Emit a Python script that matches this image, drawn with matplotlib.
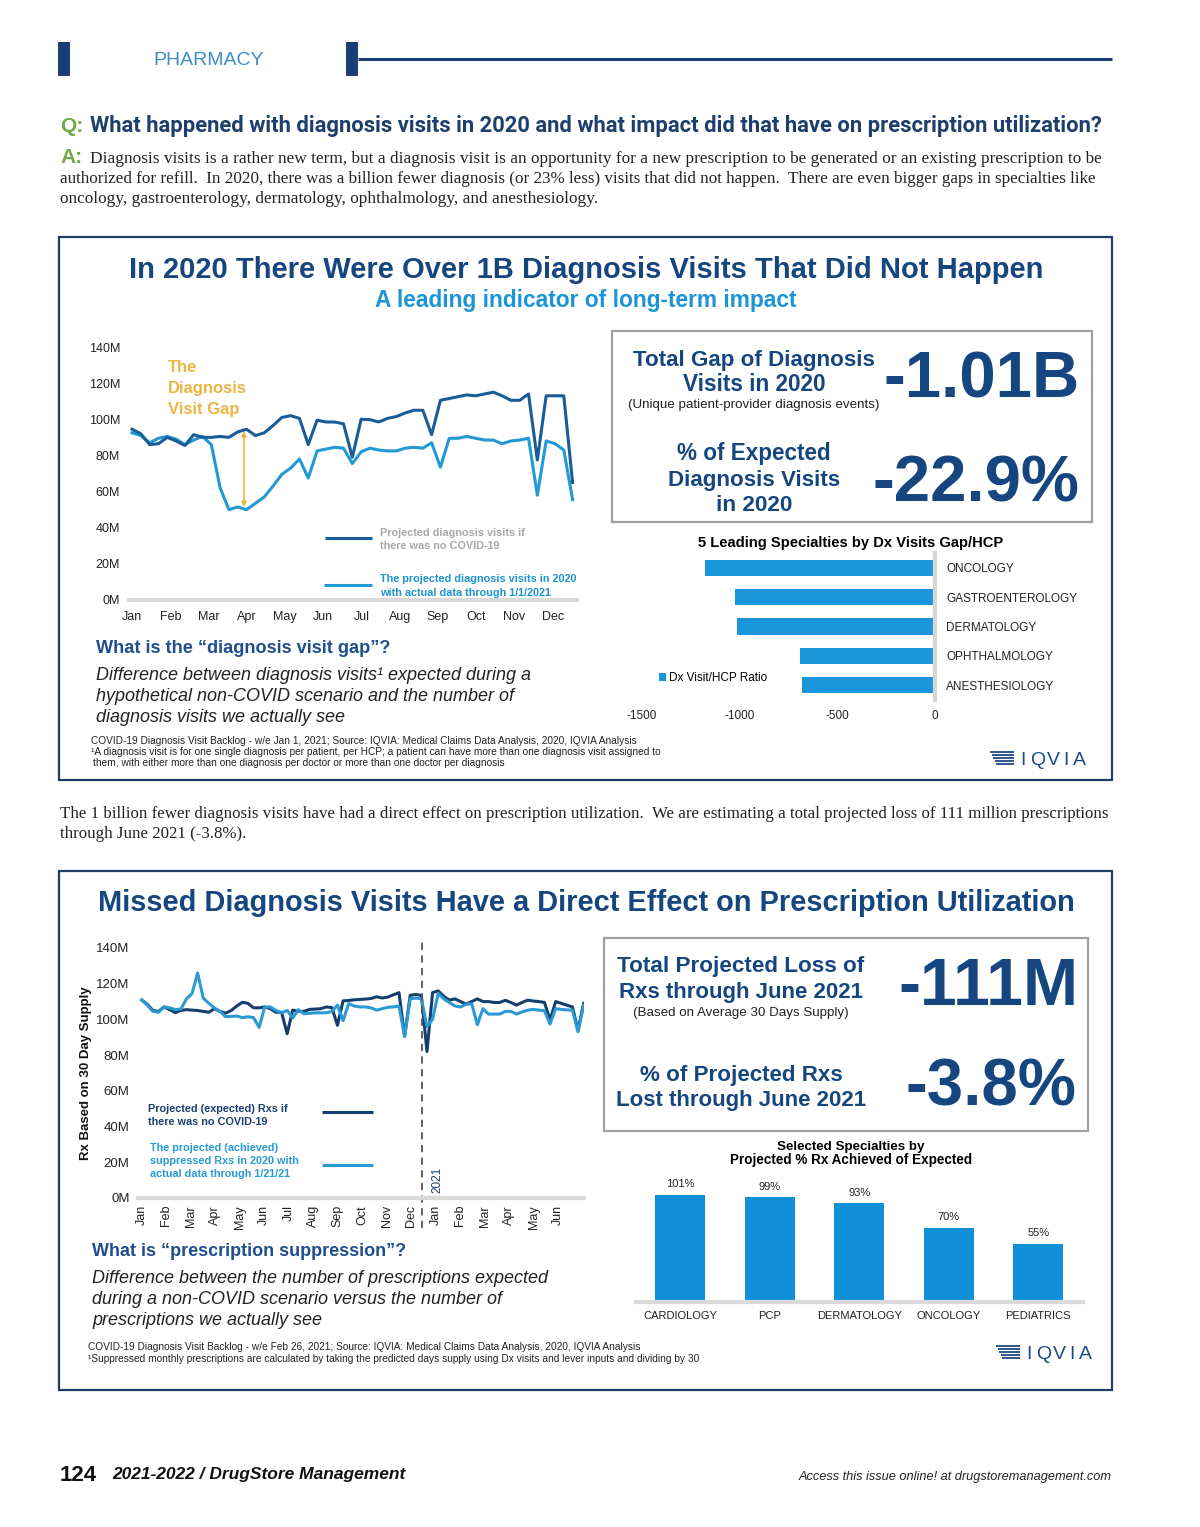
import numpy as np
import matplotlib.pyplot as plt
from matplotlib.patches import Rectangle
from matplotlib.lines import Line2D

# ---- data ----
months_2020 = ['Jan', 'Feb', 'Mar', 'Apr', 'May', 'Jun', 'Jul', 'Aug', 'Sep', 'Oct', 'Nov', 'Dec']
months_rx = months_2020 + ['Jan', 'Feb', 'Mar', 'Apr', 'May', 'Jun']

# weekly diagnosis visits 2020 (millions)
dx_expected = [94.5, 92, 86, 86.5, 90, 88, 85.5, 91.5, 90, 90, 90.5, 90, 93, 94.5, 91, 92.5,
               96.5, 101, 102, 100.5, 86, 99.5, 98.5, 98.5, 97.5, 79, 100, 99.8, 98.5, 100.5,
               101.5, 103.5, 105, 105, 91.5, 110.5, 111.5, 112.5, 113.5, 113, 114, 115, 113,
               110.5, 110.5, 114, 77.5, 113, 113, 113, 65]
dx_actual = [92.5, 91, 87, 89.5, 90.5, 89, 86, 88.5, 90.5, 86, 62, 50, 51.5, 50, 53.5, 57,
             63, 69.5, 73, 78, 67.5, 82.5, 83.5, 84.5, 84, 75.5, 82, 84, 83, 82.5, 82.5, 84,
             84.5, 84, 87, 73.5, 89.5, 89.5, 90.5, 89.5, 88.5, 88.5, 86.5, 88, 88.5, 89.5,
             58, 88, 86.5, 83, 55.5]

gap_specialties = ['ONCOLOGY', 'GASTROENTEROLOGY', 'DERMATOLOGY', 'OPHTHALMOLOGY', 'ANESTHESIOLOGY']
gap_values = [-1177, -1023, -1015, -691, -682]

# weekly prescriptions Jan 2020 - Jun 2021 (millions)
rx_expected = [110.9, 108.5, 105, 104.5, 107, 105.5, 103.8, 105, 105.5, 105.2, 105, 104.5, 104,
               106, 104.5, 103.5, 105, 107.5, 109.6, 109, 106.5, 106.5, 107, 106, 104, 104, 92,
               105.2, 104.5, 104.5, 105.6, 105.8, 106, 107, 106.6, 96.7, 110.4, 110.6, 111,
               111.2, 111.4, 111.7, 112.7, 112, 112.5, 113.8, 115, 90.5, 113.5, 114, 113.4, 82,
               115, 116, 113, 110.8, 111.5, 110, 108.5, 110, 111.5, 110, 110, 109.5, 109.5,
               110.7, 109.5, 108, 109.5, 110.8, 110.3, 110, 109.5, 99.7, 110, 109, 108, 107, 94, 109]
rx_actual = [110.9, 108, 104.5, 104, 107, 106.5, 105.5, 105.8, 111.5, 114.5, 126, 112, 109,
             106.5, 104.5, 101.5, 101.7, 101.9, 101, 101.5, 101, 95.5, 107, 107, 105, 103.7, 105,
             100.8, 105.4, 103.2, 103.4, 103.7, 103.7, 103.7, 104.5, 108, 99.3, 108.8, 107.5,
             107, 107, 106.5, 105.2, 106, 106.8, 107, 107.5, 90.5, 111.5, 112, 111.5, 96, 100,
             114.5, 111.5, 109.5, 107.5, 107, 108.5, 108.8, 97, 106, 103, 103, 103, 104.5, 104.5,
             103, 104.2, 105.2, 105.6, 105.2, 104.9, 97.4, 106, 105.6, 105.3, 105.2, 93.1, 108]

ach_specialties = ['CARDIOLOGY', 'PCP', 'DERMATOLOGY', 'ONCOLOGY', 'PEDIATRICS']
ach_values = [101, 99, 93, 70, 55]

# ---- colours / fonts ----
NAVY = '#16467f'
BOXNAVY = '#1f3d66'
LBLUE = '#1b95d5'
GOLD = '#ecb443'
GREEN = '#73a843'
GRAY = '#a8a8a8'
SANS = ['Liberation Sans', 'DejaVu Sans']
SERIF = ['Liberation Serif', 'DejaVu Serif']

W, H = 1200, 1527
fig = plt.figure(figsize=(12, 15.27), dpi=100)
fig.patch.set_facecolor('white')
R = fig.canvas.get_renderer()


def txt(x, y, s, size, color='black', weight='normal', style='normal', ha='left',
        va='baseline', family=SANS, width=None, **kw):
    t = fig.text(x / W, 1 - y / H, s, fontsize=size, color=color, fontweight=weight,
                 fontstyle=style, ha=ha, va=va, family=family, **kw)
    if width:
        w = t.get_window_extent(R).width
        t.set_fontsize(size * width / w)
    return t


def rect(x0, y0, x1, y1, ec='none', fc='none', lw=1):
    fig.add_artist(Rectangle((x0 / W, 1 - y1 / H), (x1 - x0) / W, (y1 - y0) / H,
                             transform=fig.transFigure, ec=ec, fc=fc, lw=lw))


def hline(x0, x1, y, color, lw):
    fig.add_artist(Line2D([x0 / W, x1 / W], [1 - y / H, 1 - y / H],
                          transform=fig.transFigure, color=color, lw=lw, solid_capstyle='butt'))


def axpx(x0, y0, x1, y1):
    return fig.add_axes([x0 / W, 1 - y1 / H, (x1 - x0) / W, (y1 - y0) / H])


def logo(x, y):
    for k in range(5):
        hline(x + k * 1.5, x + 24, y - 6 + k * 3, '#1d4a85', 1.3)
    for k, c in enumerate('IQVIA'):
        txt(x + 30 + [0, 10, 27, 43, 53][k], y + 7, c, 14, color='#1d4a85', family=SANS)


# ---- page header ----
rect(58, 42, 70, 76, fc='#1a3f78')
rect(346, 42, 358, 76, fc='#1a3f78')
hline(358, 1112, 59, '#1a3f78', 2.2)
txt(153, 65, 'PHARMACY', 13, color='#3a8dc5', width=110)

txt(60, 132, 'Q:', 15, color=GREEN, weight='bold')
txt(90, 132, 'What happened with diagnosis visits in 2020 and what impact did that have on '
    'prescription utilization?', 14, color='#1d3f6e', weight='bold',
    family=['Liberation Sans Narrow', 'Roboto'], width=1013)
txt(60, 163, 'A:', 15, color=GREEN, weight='bold')
t1 = txt(90, 163, 'Diagnosis visits is a rather new term, but a diagnosis visit is an opportunity '
         'for a new prescription to be generated or an existing prescription to be',
         11.5, color='#222222', family=SERIF, width=1007)
fs = t1.get_fontsize()
txt(60, 183, 'authorized for refill.  In 2020, there was a billion fewer diagnosis (or 23% less) '
    'visits that did not happen.  There are even bigger gaps in specialties like',
    fs, color='#222222', family=SERIF, width=1037)
txt(60, 203, 'oncology, gastroenterology, dermatology, ophthalmology, and anesthesiology.',
    fs, color='#222222', family=SERIF)

# ---- first panel ----
rect(59, 237, 1112, 780, ec=BOXNAVY, lw=1.6)
txt(586, 278, 'In 2020 There Were Over 1B Diagnosis Visits That Did Not Happen', 20,
    color=NAVY, weight='bold', ha='center', width=913)
txt(586, 307, 'A leading indicator of long-term impact', 14, color=LBLUE, weight='bold',
    ha='center', width=423)

ax1 = axpx(128.5, 347, 577, 600)
wk = np.arange(len(dx_expected))
ax1.plot(wk, dx_actual, color='#2299d5', lw=2.2)
ax1.plot(wk, dx_expected, color='#1a5c98', lw=2.2)
ax1.set_ylim(0, 140)
ax1.set_xlim(-0.4, 50.5)
ax1.set_yticks(np.arange(0, 141, 20))
ax1.set_yticklabels([f'{v}M' for v in range(0, 141, 20)], family=SANS, fontsize=9, color='#222')
ax1.set_xticks(np.arange(12) * 4.34)
ax1.set_xticklabels(months_2020, family=SANS, fontsize=9, color='#222')
ax1.tick_params(length=0, pad=6)
ax1.tick_params(axis='x', pad=8)
for s in ['top', 'right', 'left']:
    ax1.spines[s].set_visible(False)
ax1.spines['bottom'].set_color('#d9d9d9')
ax1.spines['bottom'].set_linewidth(3)
ax1.annotate('', xy=(12.7, 51.5), xytext=(12.7, 93.5),
             arrowprops=dict(arrowstyle='<|-|>', color=GOLD, lw=1.2, mutation_scale=7,
                             shrinkA=0, shrinkB=0))

txt(168, 372, 'The', 12, color=GOLD, weight='bold')
txt(168, 393, 'Diagnosis', 12, color=GOLD, weight='bold')
txt(168, 414, 'Visit Gap', 12, color=GOLD, weight='bold')

hline(325, 372, 538, '#1a5c98', 2.2)
txt(380, 536, 'Projected diagnosis visits if', 7.8, color=GRAY, weight='bold')
txt(380, 549, 'there was no COVID-19', 7.8, color=GRAY, weight='bold')
hline(324, 372, 585, '#2299d5', 2.2)
txt(380, 582, 'The projected diagnosis visits in 2020', 7.8, color='#1d93d0', weight='bold')
txt(380, 596, 'with actual data through 1/1/2021', 7.8, color='#1d93d0', weight='bold')

txt(96, 653, 'What is the \u201cdiagnosis visit gap\u201d?', 12, color='#1f4e8c', weight='bold',
    width=292)
ti = txt(96, 680, 'Difference between diagnosis visits\u00b9 expected during a', 11.5,
         color='#222', style='italic', width=435)
fi = ti.get_fontsize()
txt(96, 701, 'hypothetical non-COVID scenario and the number of', fi, color='#222', style='italic')
txt(96, 722, 'diagnosis visits we actually see', fi, color='#222', style='italic')

txt(91, 744, 'COVID-19 Diagnosis Visit Backlog - w/e Jan 1, 2021; Source: IQVIA: Medical Claims '
    'Data Analysis, 2020, IQVIA Analysis', 6.5, color='#222', width=545)
txt(91, 755, '\u00b9A diagnosis visit is for one single diagnosis per patient, per HCP; a patient '
    'can have more than one diagnosis visit assigned to', 6.5, color='#222', width=567)
txt(93, 766, 'them, with either more than one diagnosis per doctor or more than one doctor per '
    'diagnosis', 6.5, color='#222', width=410)
logo(990, 758)

# stats box 1
rect(612, 331, 1092, 522, ec='#a0a0a0', lw=1.6)
txt(754, 366, 'Total Gap of Diagnosis', 14.5, color=NAVY, weight='bold', ha='center', width=242)
txt(754, 391, 'Visits in 2020', 14.5, color=NAVY, weight='bold', ha='center', width=142)
txt(754, 408, '(Unique patient-provider diagnosis events)', 9, color='#222', ha='center', width=252)
txt(982, 398, '-1.01B', 46, color=NAVY, weight='bold', ha='center', width=196)
txt(754, 460, '% of Expected', 14.5, color=NAVY, weight='bold', ha='center', width=154)
txt(754, 486, 'Diagnosis Visits', 14.5, color=NAVY, weight='bold', ha='center', width=172)
txt(754, 511, 'in 2020', 14.5, color=NAVY, weight='bold', ha='center', width=76)
txt(976, 502, '-22.9%', 48, color=NAVY, weight='bold', ha='center', width=207)

# specialties gap bar chart
txt(851, 547, '5 Leading Specialties by Dx Visits Gap/HCP', 9.5, color='black', weight='bold',
    ha='center', width=307)
ax2 = axpx(642, 553, 935, 700)
yb = np.arange(len(gap_values))
ax2.barh(yb, gap_values, height=0.55, color='#1c96da', label='Dx Visit/HCP Ratio')
ax2.set_xlim(-1500, 0)
ax2.set_ylim(4.5, -0.5)
ax2.set_xticks([-1500, -1000, -500, 0])
ax2.set_xticklabels(['-1500', '-1000', '-500', '0'], family=SANS, fontsize=8.5, color='#222')
ax2.yaxis.tick_right()
ax2.set_yticks(yb)
ax2.set_yticklabels(gap_specialties, family=SANS, fontsize=8.5, color='#222')
ax2.tick_params(length=0)
ax2.tick_params(axis='x', pad=7)
ax2.tick_params(axis='y', pad=8)
for s in ['top', 'left', 'bottom']:
    ax2.spines[s].set_visible(False)
ax2.spines['right'].set_color('#d6d6d6')
ax2.spines['right'].set_linewidth(3)
ax2.legend(loc='center left', bbox_to_anchor=(648 / W, 1 - 678 / H),
           bbox_transform=fig.transFigure, frameon=False, handlelength=0.6, handleheight=0.6,
           handletextpad=0.3, prop={'family': SANS, 'size': 8.5})

# ---- middle paragraph ----
t2 = txt(60, 818, 'The 1 billion fewer diagnosis visits have had a direct effect on prescription '
         'utilization.  We are estimating a total projected loss of 111 million prescriptions',
         fs, color='#222222', family=SERIF, width=1052)
txt(60, 838, 'through June 2021 (-3.8%).', t2.get_fontsize(), color='#222222', family=SERIF)

# ---- second panel ----
rect(59, 871, 1112, 1390, ec=BOXNAVY, lw=1.6)
txt(586, 911, 'Missed Diagnosis Visits Have a Direct Effect on Prescription Utilization', 20,
    color=NAVY, weight='bold', ha='center', width=978)

ax3 = axpx(138, 948, 584, 1198)
wr = np.arange(len(rx_expected))
ax3.plot(wr, rx_expected, color='#143e6e', lw=2.2)
ax3.plot(wr, rx_actual, color='#2a9ad4', lw=2.2)
ax3.set_ylim(0, 140)
ax3.set_xlim(-0.66, 79.07)
ax3.set_yticks(np.arange(0, 141, 20))
ax3.set_yticklabels([f'{v}M' for v in range(0, 141, 20)], family=SANS, fontsize=9.5, color='#222')
ax3.set_xticks(np.arange(18) * 4.38)
ax3.set_xticklabels(months_rx, family=SANS, fontsize=9, color='#222', rotation=90)
ax3.tick_params(length=0, pad=6)
ax3.tick_params(axis='x', pad=5)
for s in ['top', 'right', 'left']:
    ax3.spines[s].set_visible(False)
ax3.spines['bottom'].set_color('#d9d9d9')
ax3.spines['bottom'].set_linewidth(3)
ax3.plot([50.05, 50.05], [-17, 145], color='#555555', lw=1.3, ls=(0, (4, 3)), clip_on=False)
ax3.text(52.9, 3, '2021', rotation=90, ha='center', va='bottom', fontsize=8.5,
         color='#1d3f6e', family=SANS)
ax3.set_ylabel('Rx Based on 30 Day Supply', family=SANS, fontsize=9.5, weight='bold',
               color='#111', labelpad=3)

txt(148, 1112, 'Projected (expected) Rxs if', 7.8, color='#1d3f6e', weight='bold')
txt(148, 1125, 'there was no COVID-19', 7.8, color='#1d3f6e', weight='bold')
hline(322, 373, 1112, '#143e6e', 2.2)
txt(150, 1151, 'The projected (achieved)', 7.8, color='#2a9ad4', weight='bold')
txt(150, 1164, 'suppressed Rxs in 2020 with', 7.8, color='#2a9ad4', weight='bold')
txt(150, 1177, 'actual data through 1/21/21', 7.8, color='#2a9ad4', weight='bold')
hline(322, 373, 1165, '#2a9ad4', 2.2)

txt(92, 1256, 'What is \u201cprescription suppression\u201d?', 12, color='#1f4e8c', weight='bold',
    width=313)
tj = txt(92, 1283, 'Difference between the number of prescriptions expected', 11.5, color='#222',
         style='italic', width=456)
fj = tj.get_fontsize()
txt(92, 1304, 'during a non-COVID scenario versus the number of', fj, color='#222', style='italic')
txt(92, 1325, 'prescriptions we actually see', fj, color='#222', style='italic')

txt(88, 1350, 'COVID-19 Diagnosis Visit Backlog - w/e Feb 26, 2021; Source: IQVIA: Medical Claims '
    'Data Analysis, 2020, IQVIA Analysis', 6.5, color='#222', width=552)
txt(88, 1362, '\u00b9Suppressed monthly prescriptions are calculated by taking the predicted days '
    'supply using Dx visits and lever inputs and dividing by 30', 6.5, color='#222', width=608)
logo(996, 1352)

# stats box 2
rect(604, 938, 1088, 1131, ec='#a0a0a0', lw=1.6)
txt(741, 972, 'Total Projected Loss of', 14.5, color=NAVY, weight='bold', ha='center', width=247)
txt(741, 998, 'Rxs through June 2021', 14.5, color=NAVY, weight='bold', ha='center', width=245)
txt(741, 1016, '(Based on Average 30 Days Supply)', 9, color='#222', ha='center', width=217)
txt(988, 1005, '-111M', 46, color=NAVY, weight='bold', ha='center', width=180)
txt(741, 1081, '% of Projected Rxs', 14.5, color=NAVY, weight='bold', ha='center', width=203)
txt(741, 1106, 'Lost through June 2021', 14.5, color=NAVY, weight='bold', ha='center', width=251)
txt(991, 1106, '-3.8%', 46, color=NAVY, weight='bold', ha='center', width=171)

# achieved bar chart
txt(851, 1150, 'Selected Specialties by', 9, color='black', weight='bold', ha='center', width=148)
txt(851, 1164, 'Projected % Rx Achieved of Expected', 9, color='black', weight='bold',
    ha='center', width=242)
ax4 = axpx(635.5, 1170, 1083, 1301.7)
xb = np.arange(len(ach_values))
bars = ax4.bar(xb, ach_values, width=0.56, color='#0f90d8')
ax4.bar_label(bars, labels=[f'{v}%' for v in ach_values], padding=4, fontsize=8,
              family=SANS, color='#222')
ax4.set_ylim(0, 124.7)
ax4.set_xlim(-0.5, 4.5)
ax4.set_yticks([])
ax4.set_xticks(xb)
ax4.set_xticklabels(ach_specialties, family=SANS, fontsize=8, color='#222')
ax4.tick_params(length=0, pad=7)
for s in ['top', 'right', 'left']:
    ax4.spines[s].set_visible(False)
ax4.spines['bottom'].set_color('#d9d9d9')
ax4.spines['bottom'].set_linewidth(3)

# ---- footer ----
txt(60, 1481, '124', 16, color='#111', weight='bold')
txt(112, 1479, '2021-2022 / DrugStore Management', 12, color='#111', weight='bold',
    style='italic', width=292)
txt(1112, 1480, 'Access this issue online! at drugstoremanagement.com', 9, color='#222',
    style='italic', ha='right', width=315)

fig.savefig('out.png', dpi=100)
